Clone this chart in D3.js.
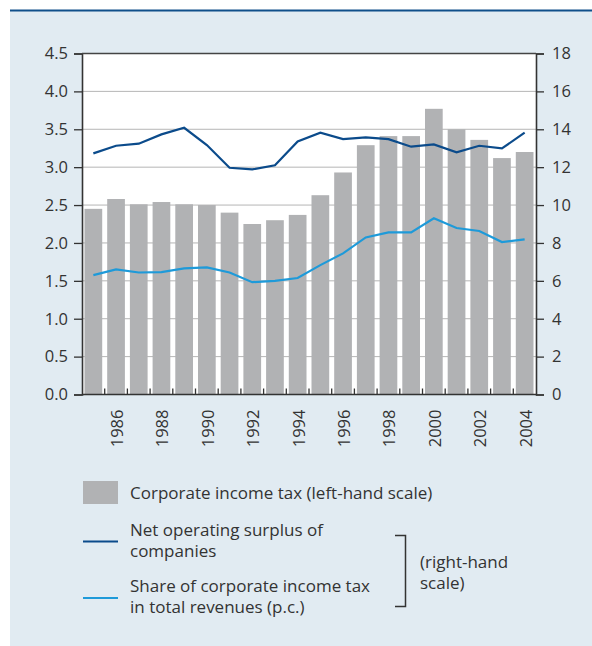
<!DOCTYPE html>
<html>
<head>
<meta charset="utf-8">
<script src="https://cdn.jsdelivr.net/npm/d3@7"></script>
<style>
  body { margin: 0; background: #fff; }
  svg { display: block; }
</style>
</head>
<body>
<div id="chart"></div>
<script>
var width = 592;
var height = 646;

// data
var years = d3.range(1985, 2005);
var corpTax = [2.45, 2.58, 2.51, 2.54, 2.51, 2.50, 2.40, 2.25, 2.30, 2.37,
               2.63, 2.93, 3.29, 3.41, 3.41, 3.77, 3.50, 3.36, 3.12, 3.20];
var surplus = [12.73, 13.13, 13.24, 13.73, 14.08, 13.17, 11.97, 11.88, 12.10, 13.36,
               13.82, 13.48, 13.57, 13.48, 13.08, 13.20, 12.78, 13.13, 12.99, 13.82];
var share = [6.30, 6.60, 6.44, 6.46, 6.66, 6.71, 6.44, 5.93, 6.00, 6.15,
             6.83, 7.45, 8.29, 8.56, 8.56, 9.30, 8.79, 8.63, 8.05, 8.19];
var leftTicks = [0, 0.5, 1, 1.5, 2, 2.5, 3, 3.5, 4, 4.5];
var rightTicks = [0, 2, 4, 6, 8, 10, 12, 14, 16, 18];
var labelYears = [1986, 1988, 1990, 1992, 1994, 1996, 1998, 2000, 2002, 2004];

var margin = {top: 53.5, right: 56, bottom: 251.5, left: 82};
var w = width - margin.left - margin.right;
var h = height - margin.top - margin.bottom;

var font = "'Open Sans', 'Noto Sans', sans-serif";
var textCol = "#333";
var axisSize = 16.5;

var svg = d3.select("#chart")
    .append("svg")
    .attr("width", width)
    .attr("height", height)
    .attr("font-family", font);

// panel background + top rule
svg.append("rect")
    .attr("x", 10).attr("y", 10)
    .attr("width", width - 10).attr("height", height - 10)
    .attr("fill", "#e1ebf2");
svg.append("line")
    .attr("x1", 10).attr("x2", width)
    .attr("y1", 10.5).attr("y2", 10.5)
    .attr("stroke", "#0f4f8a").attr("stroke-width", 2);

var g = svg.append("g")
    .attr("transform", "translate(" + margin.left + "," + margin.top + ")");

var x = d3.scaleBand().domain(years).range([0, w]).padding(0);
var inset = x.step() * 0.11;
var yL = d3.scaleLinear().domain([0, 4.5]).range([h, 0]);
var yR = d3.scaleLinear().domain([0, 18]).range([h, 0]);

g.append("rect")
    .attr("width", w).attr("height", h)
    .attr("fill", "#fff");

// gridlines
g.selectAll(".grid")
    .data(leftTicks.slice(1, -1))
    .enter().append("line")
    .attr("x1", 0).attr("x2", w)
    .attr("y1", function(d) { return yL(d); })
    .attr("y2", function(d) { return yL(d); })
    .attr("stroke", "#b5b5b5").attr("stroke-width", 1);

// bars
g.selectAll(".bar")
    .data(corpTax)
    .enter().append("rect")
    .attr("x", function(d, i) { return x(years[i]) + inset; })
    .attr("width", x.step() - 2 * inset)
    .attr("y", function(d) { return yL(d); })
    .attr("height", function(d) { return h - yL(d); })
    .attr("fill", "#b1b2b4");

var line = d3.line()
    .x(function(d, i) { return x(years[i]) + x.step() / 2; })
    .y(function(d) { return yR(d); });

g.append("path")
    .datum(share)
    .attr("d", line)
    .attr("fill", "none")
    .attr("stroke", "#1e9ad9").attr("stroke-width", 2.2);

g.append("path")
    .datum(surplus)
    .attr("d", line)
    .attr("fill", "none")
    .attr("stroke", "#0b4b8b").attr("stroke-width", 2.2);

// axes
var axL = d3.axisLeft(yL).tickValues(leftTicks).tickSize(8).tickPadding(6)
    .tickFormat(d3.format(".1f"));
var axR = d3.axisRight(yR).tickValues(rightTicks).tickSize(8).tickPadding(8);

[g.append("g").call(axL), g.append("g").attr("transform", "translate(" + w + ",0)").call(axR)]
  .forEach(function(a) {
    a.select(".domain").attr("stroke", "#333").attr("stroke-width", 1.6);
    a.selectAll(".tick line").attr("stroke", "#333").attr("stroke-width", 1.3);
    a.selectAll("text").attr("fill", textCol).attr("font-size", axisSize).attr("font-family", font);
  });

// top frame + baseline
g.append("line").attr("x1", 0).attr("x2", w).attr("y1", 0).attr("y2", 0)
    .attr("stroke", "#444").attr("stroke-width", 1.6);
g.append("line").attr("x1", 0).attr("x2", w).attr("y1", h).attr("y2", h)
    .attr("stroke", "#333").attr("stroke-width", 1.6);

// year ticks between bands
g.selectAll(".xtick")
    .data(years.slice(1))
    .enter().append("line")
    .attr("x1", function(d) { return x(d); })
    .attr("x2", function(d) { return x(d); })
    .attr("y1", h).attr("y2", h - 6)
    .attr("stroke", "#333").attr("stroke-width", 1.3);

g.selectAll(".xlabel")
    .data(labelYears)
    .enter().append("text")
    .attr("transform", function(d) {
      return "translate(" + (x(d) + x.step() / 2 + 7) + "," + (h + 15) + ") rotate(-90)";
    })
    .attr("text-anchor", "end")
    .attr("font-size", axisSize)
    .attr("fill", textCol)
    .text(function(d) { return d; });

// legend
var lg = svg.append("g").attr("font-size", 17).attr("fill", textCol);

lg.append("rect")
    .attr("x", 83).attr("y", 481).attr("width", 35).attr("height", 23)
    .attr("fill", "#b1b2b4");
lg.append("text").attr("x", 130).attr("y", 499)
    .text("Corporate income tax (left-hand scale)");

lg.append("line").attr("x1", 83).attr("x2", 118).attr("y1", 541.5).attr("y2", 541.5)
    .attr("stroke", "#0b4b8b").attr("stroke-width", 2.2);
lg.append("text").attr("x", 130).attr("y", 536).text("Net operating surplus of");
lg.append("text").attr("x", 130).attr("y", 557).text("companies");

lg.append("line").attr("x1", 83).attr("x2", 118).attr("y1", 598).attr("y2", 598)
    .attr("stroke", "#1e9ad9").attr("stroke-width", 2.2);
lg.append("text").attr("x", 130).attr("y", 592).text("Share of corporate income tax");
lg.append("text").attr("x", 130).attr("y", 613).text("in total revenues (p.c.)");

lg.append("path")
    .attr("d", "M395,535.5H405.5V606.5H395")
    .attr("fill", "none").attr("stroke", "#333").attr("stroke-width", 1.5);
lg.append("text").attr("x", 420).attr("y", 568).text("(right-hand");
lg.append("text").attr("x", 420).attr("y", 589).text("scale)");
</script>
</body>
</html>
